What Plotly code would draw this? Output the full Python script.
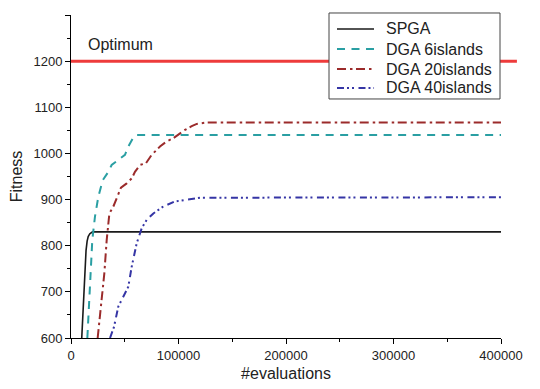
import plotly.graph_objects as go

# --- data ---
spga_x = [10000, 11000, 12000, 13000, 14000, 15000, 16000, 17500, 20000, 400000]
spga_y = [600, 650, 700, 750, 790, 810, 820, 826, 830, 830]

dga6_x = [15200, 17700, 19800, 22300, 25400, 29500, 34700, 37800, 43100, 50200, 53300, 58000, 60500, 400000]
dga6_y = [600, 711, 812, 863, 906, 942, 960, 975, 984, 997, 1015, 1035, 1040, 1040]

dga20_x = [24800, 27600, 31000, 33200, 35700, 39400, 44000, 46500, 51800, 56500, 59500, 64200, 69800,
           75100, 82800, 89000, 95200, 101400, 106000, 112300, 117000, 126200, 400000]
dga20_y = [600, 668, 740, 812, 870, 885, 910, 926, 935, 946, 960, 975, 979,
           997, 1015, 1026, 1033, 1044, 1051, 1059, 1064, 1067, 1067]

dga40_x = [36300, 40000, 44000, 50200, 53300, 56500, 61100, 65800, 70400, 76600, 85900, 96700, 107600, 120000, 400000]
dga40_y = [600, 624, 668, 697, 711, 755, 805, 838, 856, 870, 885, 896, 900, 904, 905]

series_names = ["SPGA", "DGA 6islands", "DGA 20islands", "DGA 40islands"]

optimum_value = 1200
optimum_label = "Optimum"
x_range = [0, 400000]
y_range = [600, 1300]

FONT = "Liberation Sans, Arial, sans-serif"

styles = [
    dict(color="#1a1a1a", width=1.6, dash="solid"),
    dict(color="#2A9FA3", width=2, dash="8px,6.5px"),
    dict(color="#9B2B2B", width=2, dash="9px,4px,2.5px,3.5px"),
    dict(color="#3535A5", width=2, dash="7px,3px,2px,3px,2px,4.5px"),
]

fig = go.Figure()
# optimum line: runs a little past the right end of the x axis, as in the reference
fig.add_shape(type="line", xref="paper", yref="y", x0=0, x1=1.037,
              y0=optimum_value, y1=optimum_value, line=dict(color="#EE3B3B", width=3), layer="above")
for name, xs, ys, st in zip(series_names, [spga_x, dga6_x, dga20_x, dga40_x],
                            [spga_y, dga6_y, dga20_y, dga40_y], styles):
    fig.add_trace(go.Scatter(x=xs, y=ys, mode="lines", name=name, line=st, showlegend=False))

fig.add_annotation(x=14000, y=1236, xref="x", yref="y", text=optimum_label, showarrow=False,
                   xanchor="left", yanchor="middle", font=dict(size=16, color="#222", family=FONT))

# hand-drawn legend box (tighter rows than Plotly's native legend)
fig.add_shape(type="rect", xref="paper", yref="paper", x0=0.600, x1=0.9977, y0=0.740, y1=1.0062,
              line=dict(color="#444", width=1), fillcolor="white", layer="above")
row_y = [0.9567, 0.8947, 0.8328, 0.7740]
for name, st, yy in zip(series_names, styles, row_y):
    fig.add_shape(type="line", xref="paper", yref="paper", x0=0.6186, x1=0.7047, y0=yy, y1=yy,
                  line=st, layer="above")
    fig.add_annotation(x=0.7279, y=yy, xref="paper", yref="paper", text=name, showarrow=False,
                       xanchor="left", yanchor="middle", font=dict(size=16, color="#222", family=FONT))

# page body has an 8px default margin, so the figure is sized to fit the window
fig.update_layout(
    width=532, height=381,
    margin=dict(l=63, r=39, t=7, b=51),
    paper_bgcolor="white", plot_bgcolor="white",
    font=dict(family=FONT, color="#222", size=13),
    showlegend=False,
    xaxis=dict(range=x_range, showgrid=False, zeroline=False, showline=True, linecolor="black",
               linewidth=1, ticks="outside", ticklen=5, tickcolor="black", dtick=100000,
               tickformat="d", automargin=False,
               minor=dict(ticks="outside", ticklen=3, dtick=50000, tickcolor="black"),
               title=dict(text="#evaluations", font=dict(size=16), standoff=6),
               tickfont=dict(size=13)),
    yaxis=dict(range=y_range, showgrid=False, zeroline=False, showline=True, linecolor="black",
               linewidth=1, ticks="outside", ticklen=5, tickcolor="black", dtick=100,
               automargin=False,
               minor=dict(ticks="outside", ticklen=3, dtick=50, tickcolor="black"),
               title=dict(text="Fitness", font=dict(size=16), standoff=8),
               tickfont=dict(size=13)),
)

fig.write_html("out.html")
